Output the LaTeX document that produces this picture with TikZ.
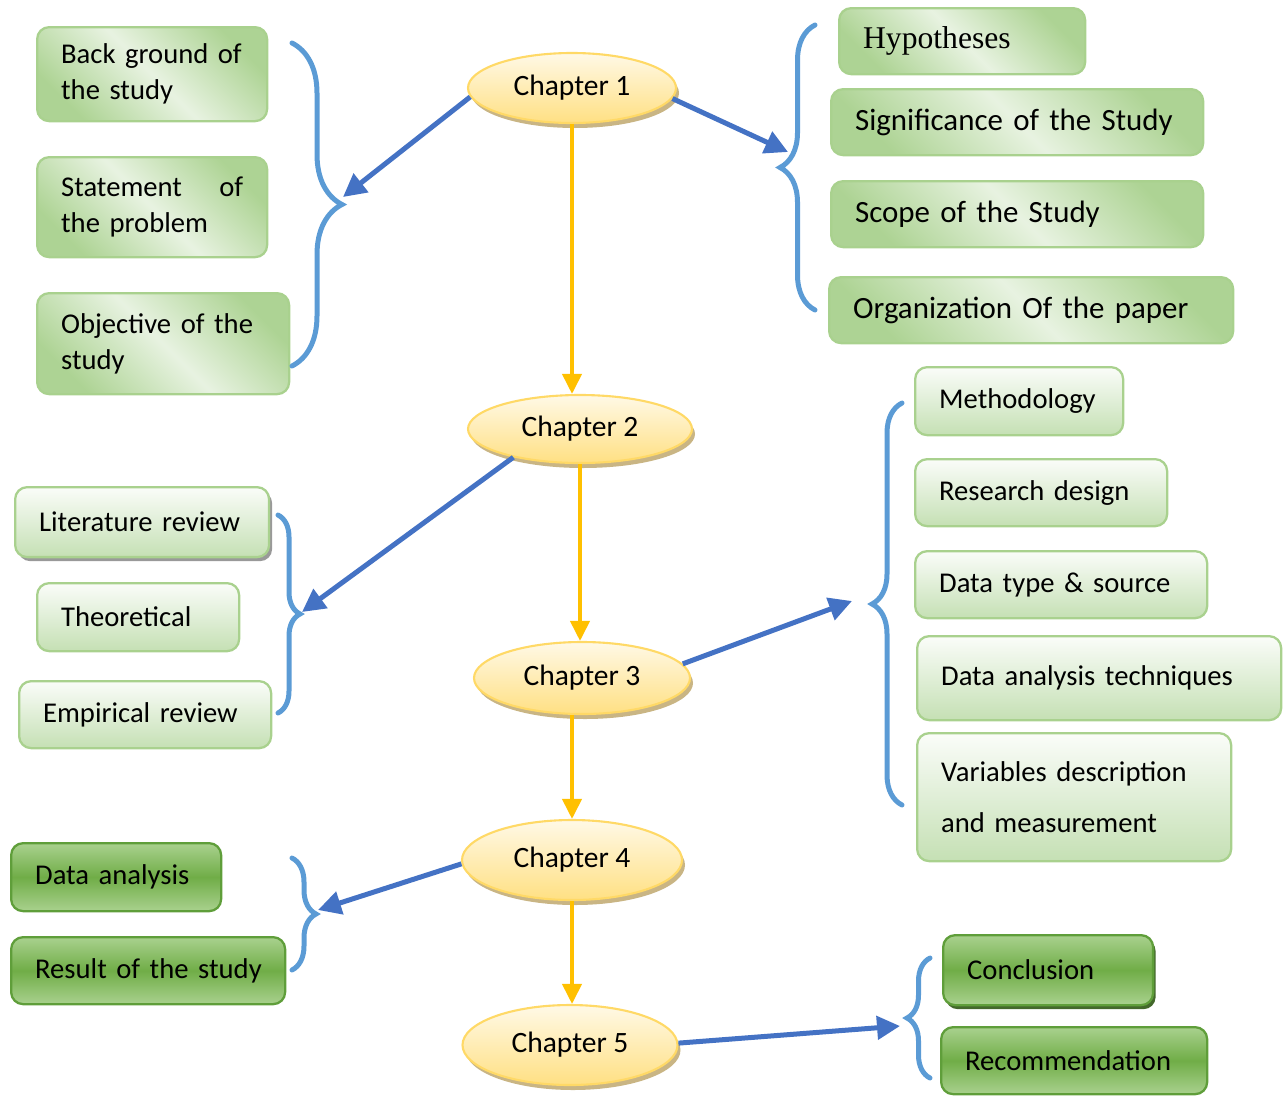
\documentclass[tikz,border=0pt]{standalone}
\usepackage{fontspec}
\setmainfont{Carlito}
\newfontfamily\hypfont{Liberation Serif}
\usetikzlibrary{shapes.geometric}
\usetikzlibrary{arrows.meta}
\usetikzlibrary{shadows}
\usetikzlibrary{decorations.pathreplacing}
\definecolor{bluearrow}{HTML}{4472C4}
\definecolor{yellowarrow}{HTML}{FFC000}
\definecolor{bracecol}{HTML}{5B9BD5}
\definecolor{lgreen}{HTML}{C5E0B4}
\definecolor{lgreenline}{HTML}{A9D18E}
\definecolor{dgreen}{HTML}{70AD47}
\definecolor{dgreenline}{HTML}{5F9E3A}
\definecolor{chapline}{HTML}{FFD966}
\definecolor{chapfill}{HTML}{FFE083}
\definecolor{chapshadow}{HTML}{C9B584}
\tikzset{%
  myarrow/.style={-{Triangle[length=0.46cm, width=0.46cm]}, line width=0.1cm, color=bluearrow},
  mydown/.style={-{Triangle[length=0.4cm, width=0.38cm]}, line width=0.08cm, color=yellowarrow},
  mychapter/.style={ellipse, draw=chapline, line width=1.2pt, top color=white!80!chapfill, bottom color=chapfill,
    drop shadow={fill=chapshadow, opacity=1, shadow xshift=0.06cm, shadow yshift=-0.1cm},
    font=\fontsize{16.8}{20}\selectfont},
  mybox/.style={rectangle, rounded corners=0.24cm, draw=lgreenline, line width=1.3pt, align=left,
    inner xsep=0.48cm, anchor=north west, font=\fontsize{16.3}{20.4}\selectfont},
  boxtop/.style={mybox, left color=lgreenline!85!lgreen, right color=lgreenline!85!lgreen, middle color=lgreen!40!white, shading angle=135},
  boxmid/.style={mybox, top color=lgreen!8!white, bottom color=lgreen},
  boxlow/.style={mybox, draw=dgreenline, top color=lgreenline, bottom color=lgreenline, middle color=dgreen},
  mybrace/.style={decorate, decoration={brace, amplitude=#1}, line width=0.1cm, color=bracecol, line cap=round}
}

\begin{document}
\begin{tikzpicture}[x=0.02cm, y=-0.02cm]
\useasboundingbox (0,0) rectangle (1283,1099);

% chapters
\foreach \nm/\x/\y/\w/\h in {1/572/88/208/70, 2/580/429/224/68, 3/582/678/216/72, 4/572/860/220/80, 5/570/1045/215/80} {
  \pgfmathsetmacro{\bw}{\w*0.02}
  \pgfmathsetmacro{\bh}{\h*0.02}
  \node [mychapter, minimum width=\bw cm, minimum height=\bh cm] (c\nm) at (\x,\y) {Chapter \nm};
}

% boxes of chapter 1
\foreach \nm/\x/\y/\w/\h/\txt in {bg/36/26/230/94/{Back ground of\\the study},
    st/36/156/230/100/{Statement\hspace{0pt plus 1filll}of\\the problem},
    ob/36/292/252/101/{Objective of the\\study}} {
  \pgfmathsetmacro{\bw}{\w*0.02}
  \pgfmathsetmacro{\bh}{\h*0.02}
  \pgfmathsetmacro{\tw}{\w*0.02-0.96}
  \node [boxtop, minimum width=\bw cm, minimum height=\bh cm, text width=\tw cm] (\nm) at (\x,\y) {\txt};
}
\foreach \nm/\x/\y/\w/\h/\txt in {hy/838/7/246/66/{\hypfont\fontsize{18}{20}\selectfont Hypotheses},
    si/830/88/372/66/{Significance of the Study},
    sc/830/180/372/66/{Scope of the Study},
    org/828/276/404/66/{Organization Of the paper}} {
  \pgfmathsetmacro{\bw}{\w*0.02}
  \pgfmathsetmacro{\bh}{\h*0.02}
  \pgfmathsetmacro{\tw}{\w*0.02-0.96}
  \node [boxtop, font=\fontsize{17.6}{21}\selectfont, minimum width=\bw cm, minimum height=\bh cm, text width=\tw cm] (\nm) at (\x,\y) {\txt};
}

% boxes of chapter 2 and 3
\node [boxmid, minimum width=5.08cm, minimum height=1.4cm, text width=4.12cm,
  drop shadow={fill=black!40, opacity=1, shadow xshift=0.06cm, shadow yshift=-0.08cm}] (lr) at (14,486) {Literature review};
\foreach \nm/\x/\y/\w/\h/\txt in {th/36/582/202/68/{Theoretical},
    er/18/680/252/67/{Empirical review},
    me/914/366/208/68/{Methodology},
    rd/914/458/252/67/{Research design},
    dt/914/550/292/67/{Data type \& source},
    da/916/635/364/84/{Data analysis techniques},
    vd/916/732/314/128/{Variables description\\[9pt]and measurement}} {
  \pgfmathsetmacro{\bw}{\w*0.02}
  \pgfmathsetmacro{\bh}{\h*0.02}
  \pgfmathsetmacro{\tw}{\w*0.02-0.96}
  \node [boxmid, minimum width=\bw cm, minimum height=\bh cm, text width=\tw cm] (\nm) at (\x,\y) {\txt};
}

% boxes of chapter 4 and 5
\node [boxlow, minimum width=4.2cm, minimum height=1.4cm, text width=3.24cm,
  drop shadow={fill=dgreen!60!black, opacity=1, shadow xshift=0.05cm, shadow yshift=-0.08cm}] (co) at (942,934) {Conclusion};
\foreach \nm/\x/\y/\w/\h/\txt in {dan/10/842/210/68/{Data analysis},
    rs/10/936/274/67/{\mbox{Result of the study}},
    rc/940/1026/266/67/{Recommendation}} {
  \pgfmathsetmacro{\bw}{\w*0.02}
  \pgfmathsetmacro{\bh}{\h*0.02}
  \pgfmathsetmacro{\tw}{\w*0.02-0.96}
  \node [boxlow, minimum width=\bw cm, minimum height=\bh cm, text width=\tw cm] (\nm) at (\x,\y) {\txt};
}

% braces
\foreach \x/\ya/\yb/\amp in {292/43/366/1, 815/310/25/0.7, 278/515/713/0.44, 902/805/403/0.6, 292/858/970/0.48, 930/1078/958/0.46} {
  \draw [mybrace=\amp cm] (\x,\ya) -- (\x,\yb);
}
\coordinate (t1) at (343,197);
\coordinate (t2) at (788,152);
\coordinate (t3) at (302,612);
\coordinate (t4) at (852,601);
\coordinate (t5) at (318,910);
\coordinate (t6) at (900,1026);

% chapter to chapter
\draw [mydown] (c1.south) -- (c1.south |- c2.north);
\draw [mydown] (c2.south) -- (c2.south |- c3.north);
\draw [mydown] (c4.north |- c3.south) -- (c4.north);
\draw [mydown] (c4.south) -- (c4.south |- c5.north);

% chapter to braces
\draw [myarrow] (c1.185) -- (t1);
\draw [myarrow] (c1.-6) -- (t2);
\draw [myarrow] (c2.203) -- (t3);
\draw [myarrow] (c3.8) -- (t4);
\draw [myarrow] (c4.182) -- (t5);
\draw [myarrow] (c5.1) -- (t6);

\end{tikzpicture}
\end{document}
